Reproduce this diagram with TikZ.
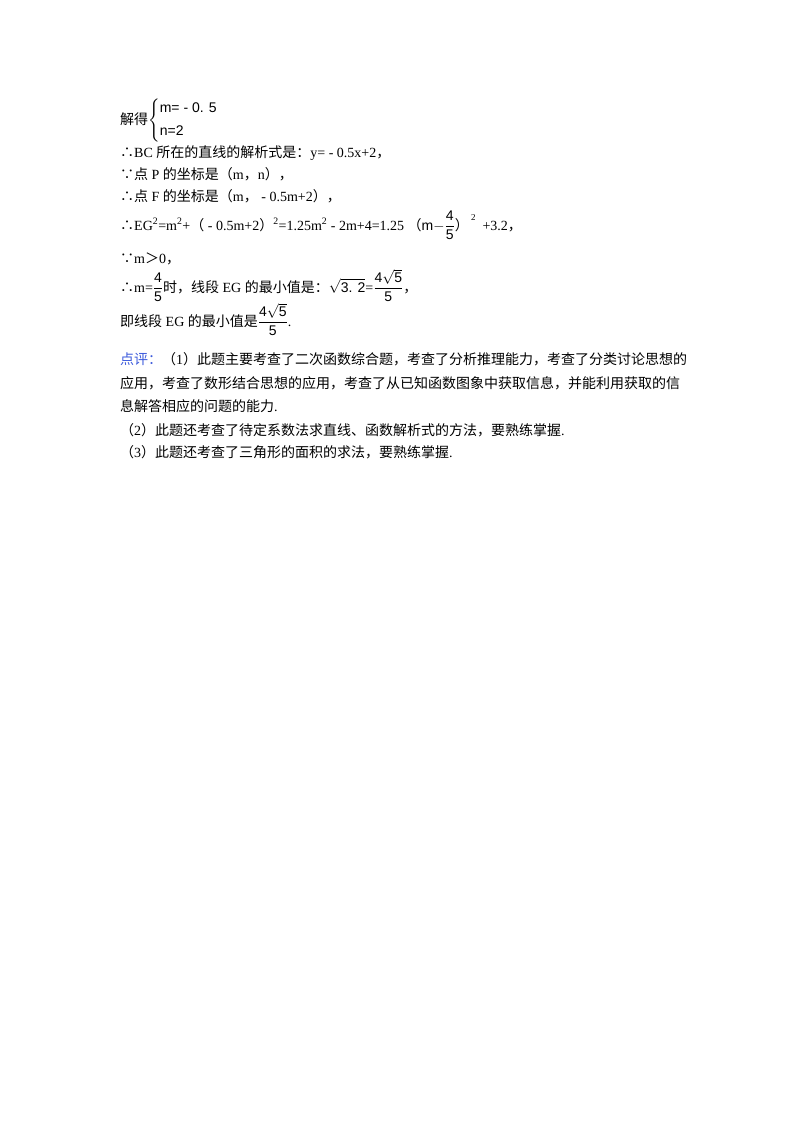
\documentclass[tikz,border=0pt]{standalone}
\usepackage{amsmath}
\usepackage{fontspec}
\setmainfont{Liberation Serif}
\newfontfamily\cjk{Noto Sans CJK SC}
\newfontfamily\asans{Liberation Sans}
\newcommand{\C}[1]{{\cjk #1}}
\newcommand{\sfr}[2]{\dfrac{\mbox{\asans #1}}{\mbox{\asans #2}}}
\definecolor{cmtblue}{RGB}{60,90,220}
\begin{document}
\begin{tikzpicture}[x=1pt,y=-1pt,
  ln/.style={anchor=base west,inner sep=0pt,font=\fontsize{14}{16}\selectfont}]
\useasboundingbox[fill=white] (0,0) rectangle (800,1132);
\node[ln] (l1) at (120,124) {\C{解得}$\left\{\begin{array}{@{}l@{}}\mbox{\asans m= - 0. 5}\\[7pt] \mbox{\asans n=2}\end{array}\right.$};
\node[ln] (l2) at (120,157) {\C{∴}BC \C{所在的直线的解析式是：}y= - 0.5x+2\C{，}};
\node[ln] (l3) at (120,179) {\C{∵点} P \C{的坐标是（}m\C{，}n\C{），}};
\node[ln] (l4) at (120,201) {\C{∴点} F \C{的坐标是（}m\C{，} - 0.5m+2\C{），}};
\node[ln] (l5) at (120,230) {\C{∴}EG$^{\text{2}}$=m$^{\text{2}}$+\C{（} - 0.5m+2\C{）}$^{\text{2}}$=1.25m$^{\text{2}}$ - 2m+4=1.25 \C{（}{\asans m}$-\sfr{4}{5}$\C{）}\raisebox{10pt}{\small\ 2}\ \ +3.2\C{，}};
\node[ln] (l6) at (120,263) {\C{∵}m\C{＞}0\C{，}};
\node[ln] (l7) at (120,292) {\C{∴}m=$\sfr{4}{5}$\C{时，线段} EG \C{的最小值是：}$\sqrt{\mbox{\asans 3. 2}}$=$\dfrac{\mbox{\asans 4}\sqrt{\mbox{\asans 5}}}{\mbox{\asans 5}}$\C{，}};
\node[ln] (l8) at (120,326) {\C{即线段} EG \C{的最小值是}$\dfrac{\mbox{\asans 4}\sqrt{\mbox{\asans 5}}}{\mbox{\asans 5}}$.};
\node[ln] (l9) at (120,364) {\C{\textcolor{cmtblue}{点评：}}\C{（}1\C{）此题主要考查了二次函数综合题，考查了分析推理能力，考查了分类讨论思想的}};
\node[ln] (l10) at (120,388) {\C{应用，考查了数形结合思想的应用，考查了从已知函数图象中获取信息，并能利用获取的信}};
\node[ln] (l11) at (120,411) {\C{息解答相应的问题的能力}.};
\node[ln] (l12) at (120,435) {\C{（}2\C{）此题还考查了待定系数法求直线、函数解析式的方法，要熟练掌握}.};
\node[ln] (l13) at (120,457) {\C{（}3\C{）此题还考查了三角形的面积的求法，要熟练掌握}.};
\end{tikzpicture}
\end{document}
